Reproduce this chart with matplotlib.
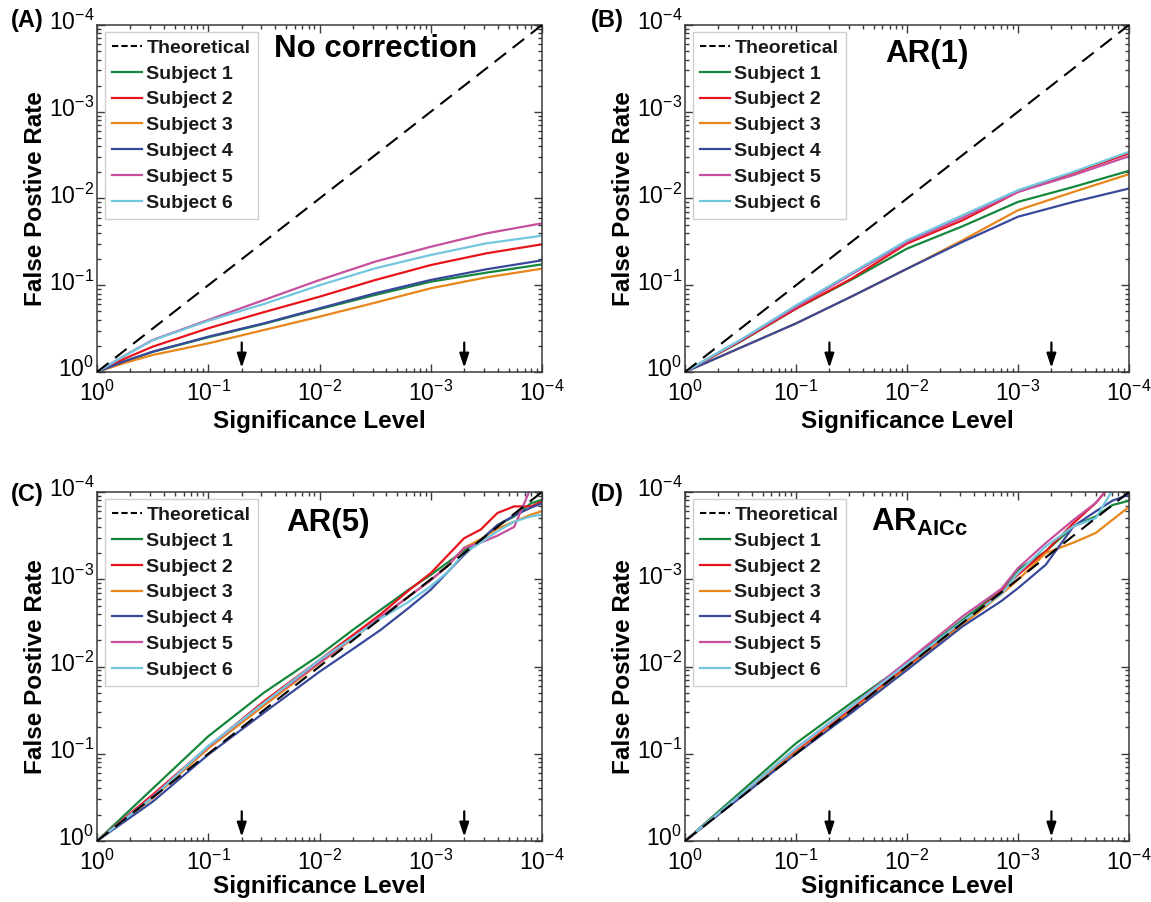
import numpy as np
import matplotlib
matplotlib.use("Agg")
import matplotlib.pyplot as plt
import matplotlib.transforms as mtransforms
from matplotlib.ticker import LogLocator, FixedLocator, FuncFormatter, NullFormatter
from matplotlib.lines import Line2D

plt.rcParams['font.family'] = ['Liberation Sans', 'DejaVu Sans']
plt.rcParams['mathtext.fontset'] = 'custom'
plt.rcParams['mathtext.rm'] = 'Liberation Sans'
plt.rcParams['mathtext.bf'] = 'Liberation Sans:bold'
plt.rcParams['mathtext.default'] = 'regular'

# ---------------- data (values are -log10 of significance level / FPR) -------------
labels = ["Subject 1", "Subject 2", "Subject 3", "Subject 4", "Subject 5", "Subject 6"]
colors = ["#15873c", "#e8141c", "#e8861a", "#38489a", "#c64f9f", "#72c6de"]
arrow_alphas = [0.05, 0.0005]

# Panel A: No correction
xa = [0, 0.25, 0.5, 1, 1.5, 2, 2.5, 3, 3.5, 4]
a_s1 = [0, 0.123, 0.232, 0.400, 0.555, 0.725, 0.888, 1.041, 1.145, 1.241]
a_s2 = [0, 0.155, 0.292, 0.504, 0.690, 0.868, 1.060, 1.233, 1.368, 1.472]
a_s3 = [0, 0.105, 0.196, 0.330, 0.484, 0.638, 0.799, 0.965, 1.091, 1.191]
a_s4 = [0, 0.125, 0.234, 0.407, 0.561, 0.734, 0.907, 1.061, 1.184, 1.287]
a_s5 = [0, 0.190, 0.369, 0.600, 0.830, 1.060, 1.272, 1.444, 1.598, 1.714]
a_s6 = [0, 0.190, 0.365, 0.590, 0.784, 1.000, 1.195, 1.349, 1.483, 1.571]

# Panel B: AR(1)
xb = [0, 0.25, 0.5, 1, 1.5, 2, 2.5, 3, 3.5, 4]
b_s1 = [0, 0.178, 0.350, 0.730, 1.065, 1.422, 1.680, 1.961, 2.134, 2.319]
b_s2 = [0, 0.180, 0.355, 0.730, 1.076, 1.480, 1.749, 2.076, 2.296, 2.520]
b_s3 = [0, 0.140, 0.280, 0.560, 0.870, 1.190, 1.518, 1.865, 2.076, 2.280]
b_s4 = [0, 0.140, 0.280, 0.560, 0.870, 1.190, 1.500, 1.790, 1.961, 2.115]
b_s5 = [0, 0.185, 0.365, 0.748, 1.126, 1.499, 1.780, 2.076, 2.270, 2.488]
b_s6 = [0, 0.190, 0.370, 0.768, 1.141, 1.518, 1.807, 2.096, 2.307, 2.538]

# Panel C: AR(5)
xc = [0, 0.5, 1, 1.5, 2, 2.3, 2.55, 2.8, 3.0, 3.15, 3.3, 3.45, 3.6, 3.75, 3.9, 4.0]
c_s1 = [0, 0.60, 1.20, 1.70, 2.13, 2.42, 2.65, 2.88, 3.05, 3.19, 3.33, 3.45, 3.62, 3.72, 3.87, 3.91]
c_s2 = [0, 0.53, 1.08, 1.60, 2.075, 2.36, 2.60, 2.87, 3.07, 3.27, 3.47, 3.57, 3.76, 3.835, 3.835, 3.89]
c_s3 = [0, 0.49, 1.06, 1.55, 2.036, 2.32, 2.56, 2.80, 2.99, 3.15, 3.36, 3.46, 3.58, 3.66, 3.74, 3.78]
c_s4 = [0, 0.45, 0.99, 1.47, 1.94, 2.20, 2.42, 2.67, 2.88, 3.08, 3.28, 3.45, 3.62, 3.73, 3.82, 3.87]
c_s5 = [0, 0.51, 1.08, 1.58, 2.045, 2.33, 2.57, 2.80, 2.99, 3.15, 3.36, 3.42, 3.50, 3.60, 4.05, 4.30]
c_s6 = [0, 0.50, 1.09, 1.58, 2.075, 2.33, 2.55, 2.74, 2.92, 3.08, 3.30, 3.42, 3.55, 3.66, 3.72, 3.74]

# Panel D: AR_AICc
xd = [0, 0.5, 1, 1.5, 2, 2.5, 2.85, 3.0, 3.25, 3.5, 3.7, 3.85, 4.0]
d_s1 = [0, 0.56, 1.120, 1.585, 2.038, 2.535, 2.87, 3.109, 3.320, 3.606, 3.720, 3.850, 3.90]
d_s2 = [0, 0.515, 1.025, 1.510, 2.000, 2.497, 2.86, 3.052, 3.320, 3.644, 3.874, 4.100, 4.30]
d_s3 = [0, 0.51, 1.014, 1.490, 1.980, 2.478, 2.83, 2.994, 3.300, 3.420, 3.530, 3.680, 3.83]
d_s4 = [0, 0.50, 0.998, 1.470, 1.960, 2.459, 2.75, 2.898, 3.166, 3.606, 3.778, 3.900, 3.97]
d_s5 = [0, 0.53, 1.063, 1.545, 2.057, 2.574, 2.89, 3.128, 3.415, 3.680, 3.874, 4.100, 4.30]
d_s6 = [0, 0.53, 1.063, 1.545, 2.030, 2.516, 2.83, 3.070, 3.377, 3.606, 3.700, 4.020, 4.30]

panels = [
    ("(A)", "No correction", xa, [a_s1, a_s2, a_s3, a_s4, a_s5, a_s6]),
    ("(B)", "AR(1)", xb, [b_s1, b_s2, b_s3, b_s4, b_s5, b_s6]),
    ("(C)", "AR(5)", xc, [c_s1, c_s2, c_s3, c_s4, c_s5, c_s6]),
    ("(D)", r"$\mathbf{AR_{AICc}}$", xd, [d_s1, d_s2, d_s3, d_s4, d_s5, d_s6]),
]

# ---------------- layout ----------------
W, H = 1151, 902
fig = plt.figure(figsize=(W / 100, H / 100), dpi=100)
positions = [
    [97 / W, 1 - 372 / H, 445 / W, 347 / H],
    [685 / W, 1 - 372 / H, 444 / W, 347 / H],
    [97 / W, 1 - 841 / H, 445 / W, 349 / H],
    [685 / W, 1 - 841 / H, 444 / W, 349 / H],
]
title_pos = [(0.625, 0.93, 'center'), (0.545, 0.915, 'center'),
             (0.52, 0.912, 'center'), (0.42, 0.912, 'left')]
letter_pos = [(27 / W, 1 - 21 / H), (607 / W, 1 - 21 / H),
              (27 / W, 1 - 494 / H), (607 / W, 1 - 494 / H)]
xlabel_y = [-0.11, -0.11, -0.098, -0.098]

axcol = "#3a3a3a"


def fmt(v, pos):
    e = int(round(np.log10(v)))
    if e == 0:
        return r'$10^{0}$'
    return r'$10^{-%d}$' % e


yshift = mtransforms.ScaledTranslation(0, 3.5 / 72, fig.dpi_scale_trans)

for i, (letter, title, xs, series) in enumerate(panels):
    ax = fig.add_axes(positions[i])
    xv = 10 ** np.asarray(xs, dtype=float)
    ax.plot(xv, xv, color='black', lw=1.5, dashes=(7, 4), zorder=3)
    for s, c in zip(series, colors):
        ax.plot(xv, 10 ** np.asarray(s, dtype=float), color=c, lw=1.6, zorder=2)
    ax.set_xscale('log')
    ax.set_yscale('log')
    ax.set_xlim(1, 1e4)
    ax.set_ylim(1, 1e4)
    for axis in (ax.xaxis, ax.yaxis):
        axis.set_major_locator(FixedLocator([1, 10, 100, 1000, 10000]))
        axis.set_minor_locator(LogLocator(base=10, subs=np.arange(2, 10)))
        axis.set_major_formatter(FuncFormatter(fmt))
        axis.set_minor_formatter(NullFormatter())
    ax.tick_params(which='both', direction='in', top=True, right=True,
                   colors=axcol, labelcolor='black', labelsize=16.5, width=1)
    ax.tick_params(which='major', length=6)
    ax.tick_params(which='minor', length=3)
    ax.tick_params(axis='x', which='major', pad=6)
    ax.tick_params(axis='y', which='major', pad=2)
    for sp in ax.spines.values():
        sp.set_color(axcol)
        sp.set_linewidth(1.1)

    ax.set_xlabel("Significance Level", fontsize=17.5, fontweight='bold')
    ax.set_ylabel("False Postive Rate", fontsize=17.5, fontweight='bold')
    ax.xaxis.set_label_coords(0.5, xlabel_y[i])
    ax.yaxis.set_label_coords(-0.112, 0.5)

    for lbl in ax.get_yticklabels():
        lbl.set_transform(lbl.get_transform() + yshift)

    # arrows
    for a in arrow_alphas:
        ax.annotate("", xy=(1 / a, 0.012), xytext=(1 / a, 0.085),
                    xycoords=ax.get_xaxis_transform(),
                    textcoords=ax.get_xaxis_transform(),
                    arrowprops=dict(arrowstyle='-|>,head_length=0.6,head_width=0.2',
                                    color='black', lw=1.6, mutation_scale=14,
                                    shrinkA=0, shrinkB=0))

    tx, ty, ha = title_pos[i]
    ax.text(tx, ty, title, transform=ax.transAxes, fontsize=22.5, fontweight='bold',
            ha=ha, va='center')

    handles = [Line2D([], [], color='black', lw=1.5, dashes=(3, 1.5))]
    handles += [Line2D([], [], color=c, lw=1.6) for c in colors]
    leg = ax.legend(handles, ["Theoretical"] + labels, loc='upper left',
                    bbox_to_anchor=(0.018, 0.98), borderaxespad=0,
                    prop={'weight': 'bold', 'size': 14}, handlelength=1.5,
                    handletextpad=0.25, labelspacing=0.42, borderpad=0.38,
                    fancybox=False, framealpha=1, edgecolor='#cfcfcf')
    leg.get_frame().set_linewidth(1.0)
    for t in leg.get_texts():
        t.set_color('#1a1a1a')

    fig.text(letter_pos[i][0], letter_pos[i][1], letter, fontsize=17,
             fontweight='bold', ha='center', va='center')

fig.savefig("out.png", dpi=100)
